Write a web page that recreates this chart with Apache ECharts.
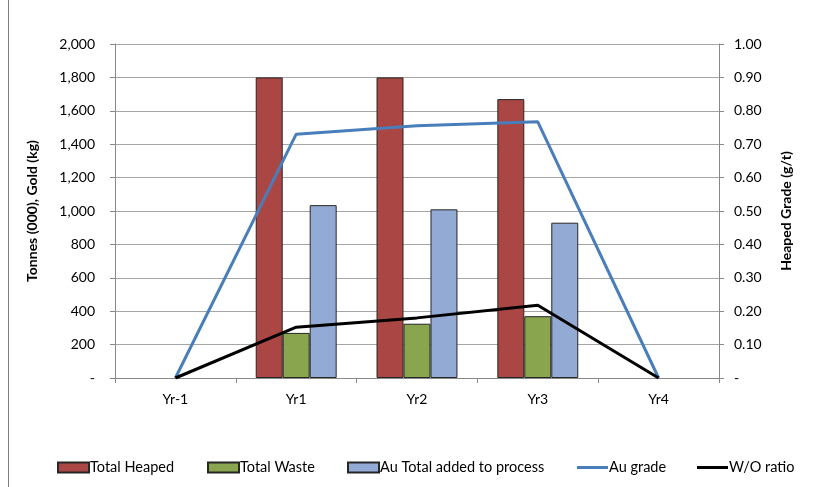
<!DOCTYPE html>
<html>
<head>
<meta charset="utf-8">
<script src="https://cdn.jsdelivr.net/npm/echarts@6/dist/echarts.min.js"></script>
<style>
  html, body { margin: 0; padding: 0; background: #fff; }
  #chart { width: 822px; height: 487px; }
</style>
</head>
<body>
<div id="chart"></div>
<script>
// Mine schedule by year (null = no bar drawn)
const years = ['Yr-1', 'Yr1', 'Yr2', 'Yr3', 'Yr4'];
const totalHeaped = [null, 1800, 1800, 1670, null];
const totalWaste = [null, 270, 325, 370, null];
const auAdded = [null, 1035, 1010, 930, null];
const auGrade = [0, 0.73, 0.755, 0.767, 0];
const woRatio = [0, 0.152, 0.18, 0.218, 0];

const FONT = "Lato, 'Liberation Sans', sans-serif";

const chart = echarts.init(document.getElementById('chart'), null, { renderer: 'canvas' });

const barStyle = (color) => ({ color: color, borderColor: '#262626', borderWidth: 1 });
const legendText = { fontFamily: FONT, fontSize: 14.5, color: '#000', padding: [0, 0, 0, -4] };

// one legend block per entry so each key sits at its own x position
const legendItem = (name, left, isLine) => ({
  left: left, top: 455,
  itemWidth: 31, itemHeight: isLine ? 3 : 10,
  icon: 'rect',
  textStyle: legendText,
  data: [name]
});

chart.setOption({
  animation: false,
  textStyle: { fontFamily: FONT },
  grid: { left: 115, right: 103, top: 44, bottom: 109 },
  graphic: [
    { type: 'line', shape: { x1: 8.5, y1: 0, x2: 8.5, y2: 487 }, style: { stroke: '#7f7f7f', lineWidth: 1 } }
  ],
  legend: [
    legendItem('Total Heaped', 52, false),
    legendItem('Total Waste', 202, false),
    legendItem('Au Total added to process', 342, false),
    legendItem('Au grade', 572, true),
    legendItem('W/O ratio', 692, true)
  ],
  xAxis: {
    type: 'category',
    data: years,
    boundaryGap: true,
    axisLine: { lineStyle: { color: '#888' } },
    axisTick: { show: true, length: 5, lineStyle: { color: '#888' } },
    axisLabel: { color: '#000', fontSize: 14, fontFamily: FONT, margin: 14 }
  },
  yAxis: [
    {
      type: 'value',
      min: 0, max: 2000, interval: 200,
      name: 'Tonnes (000), Gold (kg)',
      nameLocation: 'middle',
      nameGap: 76,
      nameTextStyle: { fontWeight: 'bold', fontSize: 14, color: '#000', fontFamily: FONT },
      axisLine: { show: true, lineStyle: { color: '#888' } },
      axisTick: { show: true, length: 5, lineStyle: { color: '#888' } },
      axisLabel: {
        color: '#000', fontSize: 14, fontFamily: FONT, margin: 20,
        formatter: v => v === 0 ? '-' : v.toLocaleString('en-US')
      },
      splitLine: { lineStyle: { color: '#a6a6a6', width: 1 } }
    },
    {
      type: 'value',
      min: 0, max: 1, interval: 0.1,
      name: 'Heaped Grade (g/t)',
      nameLocation: 'middle',
      nameGap: 60,
      nameTextStyle: { fontWeight: 'bold', fontSize: 14, color: '#000', fontFamily: FONT },
      axisLine: { show: true, lineStyle: { color: '#888' } },
      axisTick: { show: true, length: 5, lineStyle: { color: '#888' } },
      axisLabel: {
        color: '#000', fontSize: 14, fontFamily: FONT, margin: 15,
        formatter: v => v === 0 ? '-' : v.toFixed(2)
      },
      splitLine: { show: false }
    }
  ],
  series: [
    {
      name: 'Total Heaped', type: 'bar', yAxisIndex: 0, data: totalHeaped,
      barGap: '0%', barCategoryGap: '33%', itemStyle: barStyle('#AA4643')
    },
    {
      name: 'Total Waste', type: 'bar', yAxisIndex: 0, data: totalWaste,
      barGap: '0%', barCategoryGap: '33%', itemStyle: barStyle('#89A54E')
    },
    {
      name: 'Au Total added to process', type: 'bar', yAxisIndex: 0, data: auAdded,
      barGap: '0%', barCategoryGap: '33%', itemStyle: barStyle('#93AAD4')
    },
    {
      name: 'Au grade', type: 'line', yAxisIndex: 1, data: auGrade,
      showSymbol: false, symbol: 'none',
      lineStyle: { color: '#4A7EBB', width: 3 }, itemStyle: { color: '#4A7EBB' }
    },
    {
      name: 'W/O ratio', type: 'line', yAxisIndex: 1, data: woRatio,
      showSymbol: false, symbol: 'none',
      lineStyle: { color: '#000', width: 3 }, itemStyle: { color: '#000' }
    }
  ]
});
</script>
</body>
</html>
